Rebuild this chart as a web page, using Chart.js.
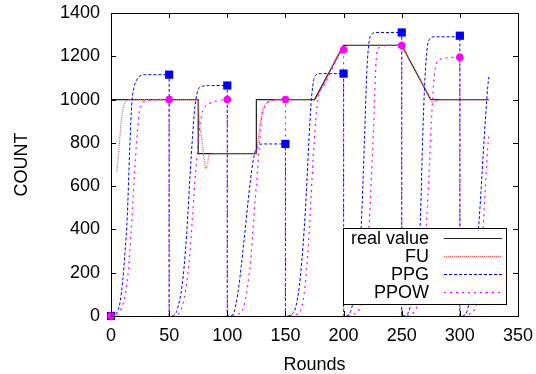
<!DOCTYPE html>
<html>
<head>
<meta charset="utf-8">
<script src="https://cdn.jsdelivr.net/npm/chart.js@4"></script>
<style>
  body { margin:0; background:#fff; }
  #wrap { width:536px; height:374px; position:relative; }
</style>
</head>
<body>
<div id="wrap"><canvas id="chart"></canvas></div>
<script>
// tick labels
const xTicks = [0, 50, 100, 150, 200, 250, 300, 350];
const yTicks = [0, 200, 400, 600, 800, 1000, 1200, 1400];

// real value
const realRounds = [0, 75, 75, 125, 125, 175, 200, 250, 275, 325];
const realCount  = [1000, 1000, 750, 750, 1000, 1000, 1250, 1250, 1000, 1000];

// FU
const fuRounds = [5, 6, 7, 8, 9, 10, 12, 14, 16, 75, 76, 78, 80, 81.5, 83, 84, 86, 90, 125, 126, 128, 130, 132, 134, 138, 142,
  175, 176, 180, 185, 190, 195, 200, 203, 206, 250, 255, 260, 265, 270, 275, 277, 280, 284, 325];
const fuCount  = [667, 720, 780, 850, 910, 950, 985, 998, 1000, 1000, 900, 820, 730, 682, 700, 740, 748, 750, 750, 790, 880, 940, 970, 985, 995, 1000,
  1000, 1003, 1040, 1090, 1150, 1205, 1240, 1248, 1250, 1250, 1200, 1150, 1100, 1050, 1000, 985, 995, 1000, 1000];

// PPG
const ppgRounds = [0, 2, 4, 6, 8, 10, 12, 14, 16, 18, 20, 22, 26, 30, 50,
  50, 52, 54, 56, 58, 60, 62, 64, 66, 68, 70, 72, 74, 76, 80, 84, 100,
  100, 102, 104, 106, 108, 110, 112, 114, 116, 118, 120, 122, 124, 126, 130, 150,
  150, 152, 154, 156, 158, 160, 162, 164, 166, 168, 170, 172, 174, 176, 180, 200,
  200, 202, 204, 206, 208, 210, 212, 214, 216, 218, 220, 222, 224, 228, 250,
  250, 252, 254, 256, 258, 260, 262, 264, 266, 268, 270, 272, 274, 278, 300,
  300, 302, 304, 306, 308, 310, 312, 314, 316, 318, 320, 322, 324, 325];
const ppgCount  = [0, 3, 10, 25, 70, 160, 290, 460, 760, 990, 1060, 1090, 1112, 1115, 1115,
  0, 0, 3, 15, 50, 100, 180, 300, 460, 650, 820, 960, 1030, 1055, 1063, 1065, 1065,
  0, 0, 3, 20, 70, 140, 230, 330, 430, 536, 630, 710, 760, 782, 795, 795,
  0, 0, 3, 10, 25, 70, 140, 250, 390, 570, 790, 980, 1080, 1112, 1120, 1120,
  0, 0, 5, 20, 60, 120, 200, 300, 520, 820, 1130, 1270, 1300, 1310, 1310,
  0, 0, 5, 20, 60, 120, 200, 300, 440, 820, 1100, 1240, 1280, 1290, 1290,
  0, 0, 5, 20, 60, 110, 180, 270, 400, 560, 740, 910, 1060, 1105];

// PPOW
const ppowRounds = [0, 2, 4, 6, 8, 10, 12, 14, 16, 18, 20, 22, 24, 26, 30, 36, 50,
  50, 52, 54, 56, 58, 60, 62, 64, 66, 68, 70, 72, 74, 76, 78, 80, 84, 90, 96, 100,
  100, 102, 104, 106, 108, 110, 112, 114, 116, 118, 120, 122, 124, 126, 128, 130, 132, 134, 140, 150,
  150, 152, 154, 156, 158, 160, 162, 164, 166, 168, 170, 172, 174, 176, 178, 180, 184, 190, 195, 200,
  200, 202, 204, 206, 208, 210, 212, 214, 216, 218, 220, 222, 224, 226, 228, 230, 234, 238, 250,
  250, 252, 254, 256, 258, 260, 262, 264, 266, 268, 270, 272, 274, 276, 278, 280, 284, 290, 300,
  300, 302, 304, 306, 308, 310, 312, 314, 316, 318, 320, 322, 324, 325];
const ppowCount  = [0, 0, 3, 10, 25, 50, 90, 160, 290, 450, 640, 800, 930, 975, 992, 998, 1000,
  0, 0, 2, 5, 10, 25, 60, 115, 190, 300, 450, 610, 740, 860, 930, 960, 980, 992, 998, 1000,
  0, 0, 2, 5, 8, 10, 14, 40, 85, 160, 250, 390, 540, 670, 820, 930, 965, 983, 995, 1000,
  0, 0, 2, 4, 6, 8, 12, 40, 100, 200, 350, 550, 740, 900, 1000, 1040, 1075, 1140, 1195, 1230,
  0, 0, 2, 4, 6, 10, 18, 35, 60, 130, 250, 420, 650, 900, 1180, 1235, 1248, 1250, 1250,
  0, 0, 2, 4, 8, 15, 30, 60, 110, 200, 330, 500, 720, 950, 1110, 1170, 1188, 1193, 1195,
  0, 0, 2, 4, 8, 14, 25, 45, 80, 200, 400, 600, 780, 840];

// markers every 50 rounds
const markRounds = [0, 50, 100, 150, 200, 250, 300];
const ppgMarks   = [0, 1115, 1065, 795, 1120, 1310, 1295];
const ppowMarks  = [0, 1000, 1000, 1000, 1230, 1250, 1195];

const FONT = '"Liberation Sans", Arial, Helvetica, sans-serif';
Chart.defaults.font.family = FONT;
Chart.defaults.color = '#000';

function pts(xs, ys) {
  return xs.map((x, i) => ({ x, y: ys[i] }));
}

// frame + inward ticks on all four sides (gnuplot style)
const framePlugin = {
  id: 'frame',
  afterDatasetsDraw(chart) {
    const { ctx, chartArea: a, scales: { x, y } } = chart;
    ctx.save();
    ctx.strokeStyle = '#000';
    ctx.lineWidth = 1;
    ctx.beginPath();
    xTicks.forEach(v => {
      const px = Math.round(x.getPixelForValue(v)) + 0.5;
      ctx.moveTo(px, a.bottom); ctx.lineTo(px, a.bottom - 5);
      ctx.moveTo(px, a.top); ctx.lineTo(px, a.top + 5);
    });
    yTicks.forEach(v => {
      const py = Math.round(y.getPixelForValue(v)) + 0.5;
      ctx.moveTo(a.left, py); ctx.lineTo(a.left + 5, py);
      ctx.moveTo(a.right, py); ctx.lineTo(a.right - 5, py);
    });
    ctx.stroke();
    ctx.strokeRect(Math.round(a.left) + 0.5, Math.round(a.top) + 0.5,
      Math.round(a.right - a.left), Math.round(a.bottom - a.top));
    ctx.restore();
  }
};

// legend box: text on the left, line sample on the right
const boxLegend = {
  id: 'boxLegend',
  afterDraw(chart) {
    const { ctx } = chart;
    const items = chart.data.datasets.filter(d => d.inLegend);
    const bx = 343.5, by = 228.5, bw = 163, bh = 76;
    ctx.save();
    ctx.fillStyle = '#fff';
    ctx.fillRect(bx, by, bw, bh);
    ctx.strokeStyle = '#000';
    ctx.lineWidth = 1;
    ctx.strokeRect(bx, by, bw, bh);
    ctx.font = '18px ' + FONT;
    ctx.textAlign = 'right';
    ctx.textBaseline = 'middle';
    items.forEach((d, i) => {
      const yy = 238.5 + i * 18;
      ctx.fillStyle = '#000';
      ctx.fillText(d.label, 429, yy + 1);
      ctx.strokeStyle = d.borderColor;
      ctx.lineWidth = d.borderWidth;
      ctx.setLineDash(d.borderDash || []);
      ctx.beginPath();
      ctx.moveTo(444, yy); ctx.lineTo(502, yy);
      ctx.stroke();
    });
    ctx.restore();
  }
};

new Chart(document.getElementById('chart'), {
  type: 'line',
  data: {
    datasets: [
      { label: 'PPOW marks', data: pts(markRounds, ppowMarks), showLine: false, order: 0, clip: false,
        pointStyle: 'circle', pointRadius: 3.8, backgroundColor: '#ff00ff', borderColor: '#ff00ff', borderWidth: 0 },
      { label: 'PPG marks', data: pts(markRounds, ppgMarks), showLine: false, order: 1, clip: false,
        pointStyle: 'rect', pointRadius: 5.8, backgroundColor: '#0000ff', borderColor: '#0000ff', borderWidth: 0 },
      { label: 'PPOW', inLegend: true, data: pts(ppowRounds, ppowCount), order: 2,
        borderColor: '#ff00ff', borderWidth: 1.2, borderDash: [2, 4], pointRadius: 0, cubicInterpolationMode: 'monotone' },
      { label: 'PPG', inLegend: true, data: pts(ppgRounds, ppgCount), order: 3,
        borderColor: '#0000ff', borderWidth: 1, borderDash: [3, 2], pointRadius: 0, cubicInterpolationMode: 'monotone' },
      { label: 'FU', inLegend: true, data: pts(fuRounds, fuCount), order: 4,
        borderColor: '#ff5050', borderWidth: 1.2, borderDash: [1, 1], pointRadius: 0, cubicInterpolationMode: 'monotone' },
      { label: 'real value', inLegend: true, data: pts(realRounds, realCount), order: 5,
        borderColor: '#222', borderWidth: 1.2, pointRadius: 0, tension: 0 }
    ].reverse()
  },
  options: {
    responsive: true,
    maintainAspectRatio: false,
    animation: false,
    layout: { padding: { left: 0, top: 13, right: 18, bottom: 0 } },
    plugins: { legend: { display: false }, tooltip: { enabled: false } },
    scales: {
      x: {
        type: 'linear', min: 0, max: 350,
        grid: { display: false, drawTicks: false },
        border: { display: false },
        ticks: { stepSize: 50, font: { size: 18 }, padding: 9, color: '#000', maxRotation: 0,
          callback: v => String(v) },
        title: { display: true, text: 'Rounds', font: { size: 18 }, color: '#000', padding: { top: 0, bottom: -2 } },
        afterFit: s => { s.height = 58; s.paddingLeft = 0; s.paddingRight = 0; }
      },
      y: {
        min: 0, max: 1400,
        grid: { display: false, drawTicks: false },
        border: { display: false },
        ticks: { stepSize: 200, font: { size: 18 }, padding: 11, color: '#000',
          callback: v => String(v) },
        title: { display: true, text: 'COUNT', font: { size: 18 }, color: '#000', padding: { top: 11, bottom: 0 } },
        afterFit: s => { s.width = 111; s.paddingTop = 0; s.paddingBottom = 0; }
      }
    }
  },
  plugins: [framePlugin, boxLegend]
});
</script>
</body>
</html>
